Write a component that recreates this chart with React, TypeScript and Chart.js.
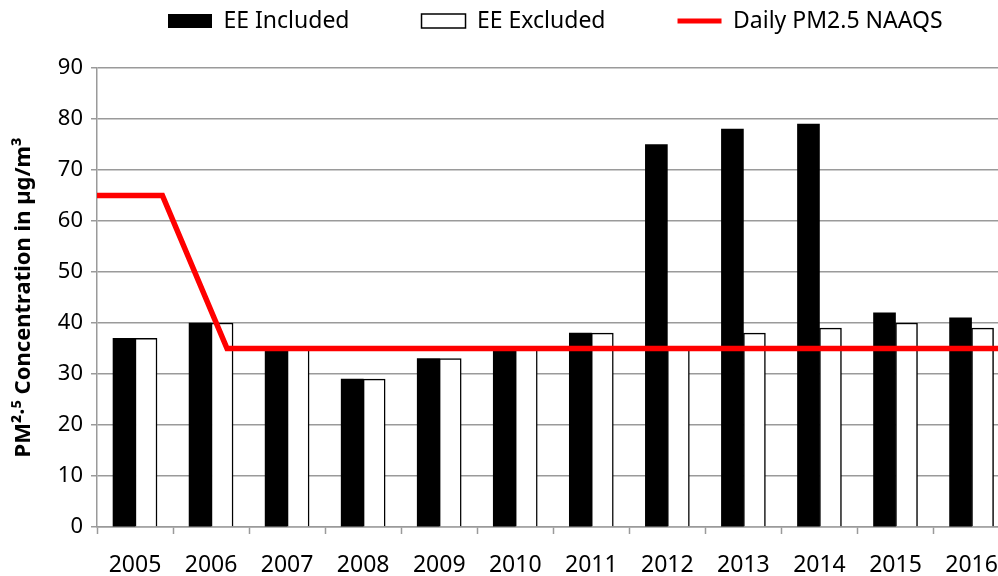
import React, { useEffect, useRef } from "react";
import { Chart, registerables } from "chart.js";

Chart.register(...registerables);

const YEARS = ["2005", "2006", "2007", "2008", "2009", "2010", "2011", "2012", "2013", "2014", "2015", "2016"];
const EE_INCLUDED = [37, 40, 35, 29, 33, 35, 38, 75, 78, 79, 42, 41];
const EE_EXCLUDED = [37, 40, 35, 29, 33, 35, 38, 35, 38, 39, 40, 39];
// NAAQS step line, x measured in years from the left edge of the 2005 slot
const NAAQS_X = [0, 0.86, 1.71, 12];
const NAAQS_Y = [65, 65, 35, 35];
const Y_MIN = 0;
const Y_MAX = 90;
const Y_STEP = 10;

const FONT = "'Noto Sans', sans-serif";
const GRID = "#9a9a9a";
// legend order: EE Included, EE Excluded, NAAQS (the line is dataset 0 so it is drawn on top)
const LEGEND_RANK = [2, 0, 1];

export default function App() {
  const ref = useRef<HTMLCanvasElement>(null);

  useEffect(() => {
    if (!ref.current) return;
    const legendShift = {
      id: "legendShift",
      afterLayout(chart: any) {
        const lg = chart.legend;
        if (!lg) return;
        lg.left = 96;
        lg.right = 1400;
        lg.top = -62.5;
      },
    };
    const chart = new Chart(ref.current, {
      type: "bar",
      data: {
        labels: YEARS,
        datasets: [
          {
            type: "line",
            label: "Daily PM2.5 NAAQS",
            data: NAAQS_X.map((x, i) => ({ x, y: NAAQS_Y[i] })),
            borderColor: "#ff0000",
            backgroundColor: "#ff0000",
            borderWidth: 5.5,
            pointRadius: 0,
            tension: 0,
            fill: false,
            xAxisID: "xl",
            yAxisID: "y",
          } as any,
          {
            type: "bar",
            label: "EE Included",
            data: EE_INCLUDED,
            backgroundColor: "#000000",
            borderColor: "#000000",
            borderWidth: 0,
            barThickness: 22,
            xAxisID: "x",
            yAxisID: "y",
          },
          {
            type: "bar",
            label: "EE Excluded",
            data: EE_EXCLUDED,
            backgroundColor: "#ffffff",
            borderColor: "#000000",
            borderWidth: 1.5,
            barThickness: 22,
            xAxisID: "x",
            yAxisID: "y",
          },
        ],
      },
      options: {
        animation: false,
        responsive: true,
        maintainAspectRatio: false,
        layout: { padding: { left: 0, right: 3, top: 0, bottom: 0 } },
        plugins: {
          tooltip: { enabled: false },
          legend: {
            display: true,
            position: "top",
            align: "start",
            maxHeight: 60,
            labels: {
              usePointStyle: true,
              pointStyleWidth: 44,
              boxWidth: 44,
              boxHeight: 14,
              padding: 72,
              color: "#000000",
              font: { family: FONT, size: 23, lineHeight: 1 },
              sort: (a: any, b: any) => LEGEND_RANK[a.datasetIndex] - LEGEND_RANK[b.datasetIndex],
              generateLabels: (c: any) => {
                const items = (Chart.defaults.plugins.legend.labels as any).generateLabels(c);
                return items.map((it: any) =>
                  it.datasetIndex === 0
                    ? { ...it, pointStyle: "line", strokeStyle: "#ff0000", fillStyle: "#ff0000", lineWidth: 5 }
                    : it.datasetIndex === 2
                    ? { ...it, pointStyle: "rect", strokeStyle: "#000000", fillStyle: "#ffffff", lineWidth: 1.5 }
                    : { ...it, pointStyle: "rect", strokeStyle: "#000000", fillStyle: "#000000", lineWidth: 0 }
                );
              },
            },
          },
        },
        scales: {
          x: {
            type: "category",
            offset: true,
            grid: {
              display: true,
              drawOnChartArea: false,
              drawTicks: true,
              offset: true,
              tickLength: 7,
              tickColor: GRID,
              tickWidth: 1.5,
              color: GRID,
            },
            border: { display: true, color: GRID, width: 1.5 },
            ticks: { color: "#000000", font: { family: FONT, size: 23 }, padding: 18, maxRotation: 0 },
            afterFit: (s: any) => {
              s.height = 49;
            },
          },
          xl: {
            type: "linear",
            display: false,
            offset: false,
            grid: { offset: false },
            min: 0,
            max: 12,
          },
          y: {
            type: "linear",
            min: Y_MIN,
            max: Y_MAX,
            grid: {
              color: GRID,
              lineWidth: 1.5,
              drawTicks: true,
              tickLength: 6,
              tickColor: GRID,
            },
            border: { display: true, color: GRID, width: 1.5 },
            ticks: { stepSize: Y_STEP, color: "#000000", font: { family: FONT, size: 22 }, padding: 8 },
            title: {
              display: true,
              text: "PM²·⁵ Concentration in µg/m³",
              color: "#000000",
              font: { family: FONT, size: 22, weight: "bold", lineHeight: 1.2 },
              padding: { top: 11, bottom: 0 },
            },
            afterFit: (s: any) => {
              s.width = 97;
              s.paddingTop = 68;
            },
          },
        },
      },
      plugins: [legendShift],
    } as any);
    return () => chart.destroy();
  }, []);

  return (
    <div
      style={{
        position: "fixed",
        left: 0,
        top: 0,
        width: 998,
        height: 576,
        overflow: "hidden",
        background: "#ffffff",
      }}
    >
      <div style={{ position: "relative", width: 1016, height: 576 }}>
        <canvas ref={ref} />
      </div>
    </div>
  );
}
